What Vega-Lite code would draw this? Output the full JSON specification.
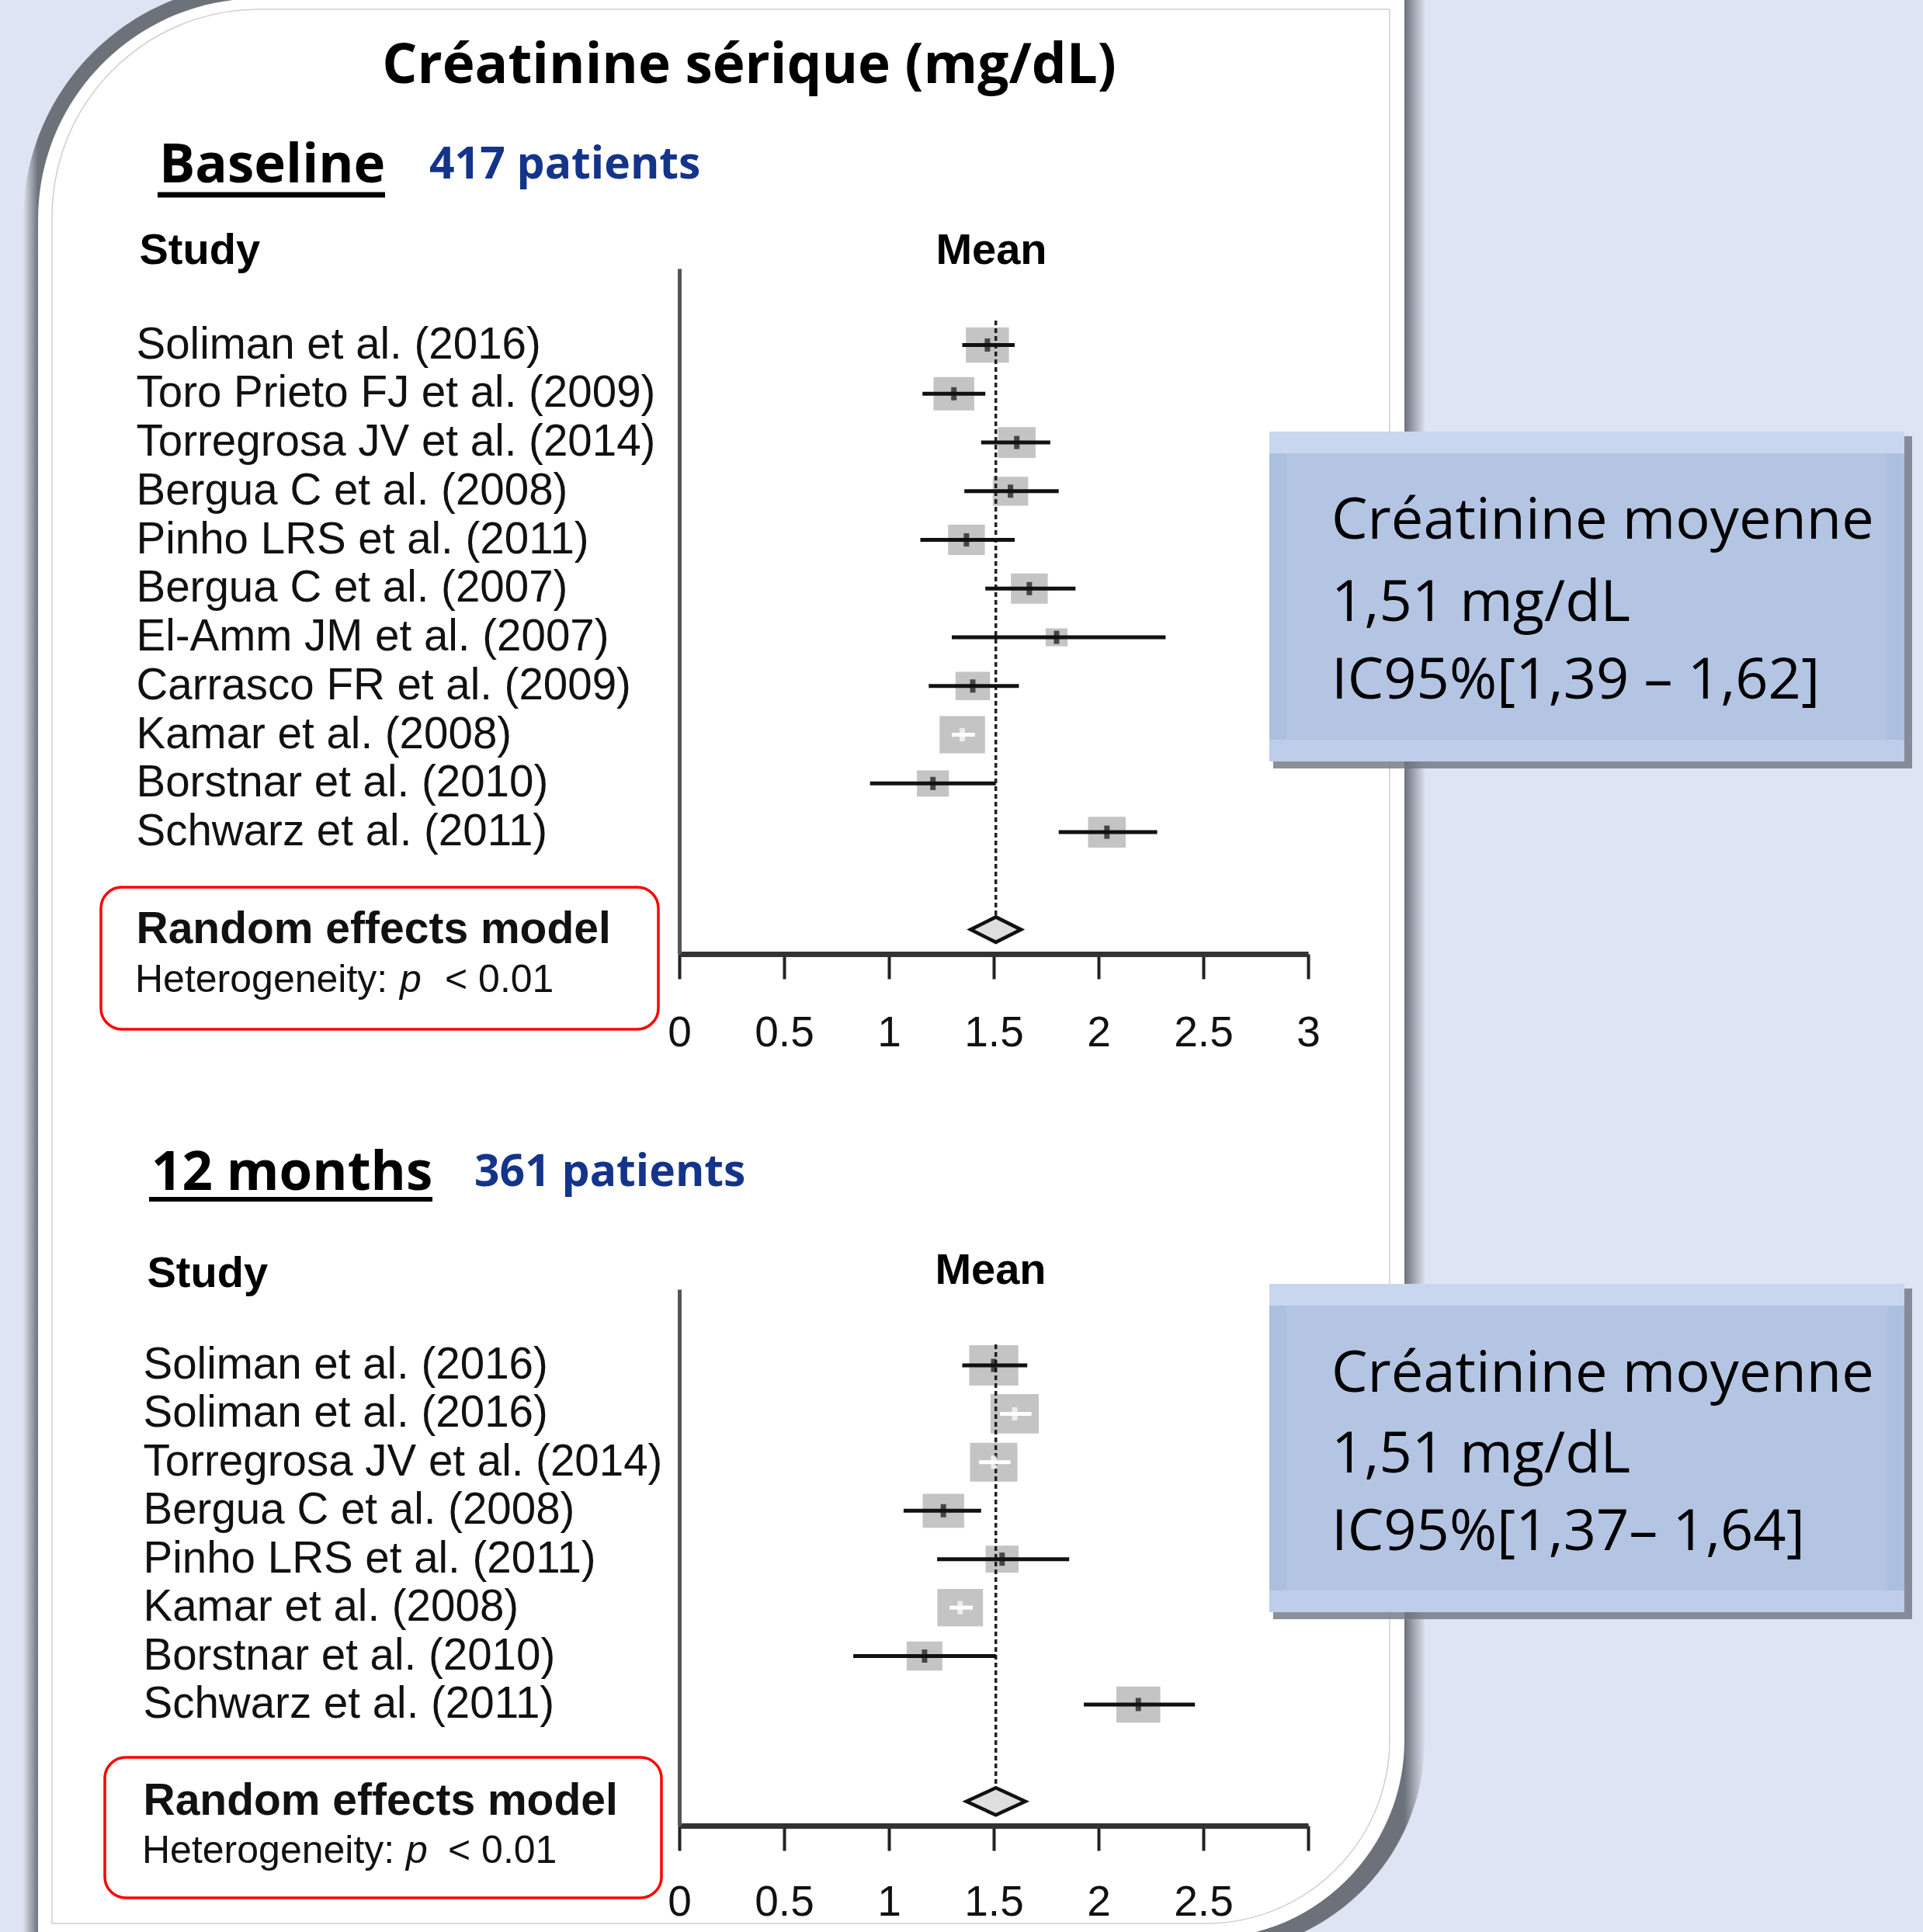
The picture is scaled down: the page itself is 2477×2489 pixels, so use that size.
{
  "$schema": "https://vega.github.io/schema/vega-lite/v6.json",
  "autosize": {"type": "none"},
  "padding": {"left": 875, "top": 346, "right": 1602, "bottom": 2143},
  "background": "#dee4f3",
  "config": {
    "view": {"stroke": null},
    "font": "Liberation Sans",
    "axis": {"grid": false}
  },
  "spacing": 432,
  "bounds": "flush",
  "datasets": {
    "one": [{"k": 1}],
    "base": [
      {"study": "Soliman et al. (2016)", "mean": 1.47, "lo": 1.35, "hi": 1.60, "w": 12.3, "kind": "study"},
      {"study": "Toro Prieto FJ et al. (2009)", "mean": 1.31, "lo": 1.16, "hi": 1.46, "w": 11.0, "kind": "study"},
      {"study": "Torregrosa JV et al. (2014)", "mean": 1.61, "lo": 1.44, "hi": 1.77, "w": 9.4, "kind": "study"},
      {"study": "Bergua C et al. (2008)", "mean": 1.58, "lo": 1.36, "hi": 1.81, "w": 8.3, "kind": "study"},
      {"study": "Pinho LRS et al. (2011)", "mean": 1.37, "lo": 1.15, "hi": 1.60, "w": 9.0, "kind": "study"},
      {"study": "Bergua C et al. (2007)", "mean": 1.67, "lo": 1.46, "hi": 1.89, "w": 9.0, "kind": "study"},
      {"study": "El-Amm JM et al. (2007)", "mean": 1.80, "lo": 1.30, "hi": 2.32, "w": 3.2, "kind": "study"},
      {"study": "Carrasco FR et al. (2009)", "mean": 1.40, "lo": 1.19, "hi": 1.62, "w": 7.9, "kind": "study"},
      {"study": "Kamar et al. (2008)", "mean": 1.35, "lo": 1.30, "hi": 1.41, "w": 13.7, "kind": "study"},
      {"study": "Borstnar et al. (2010)", "mean": 1.21, "lo": 0.91, "hi": 1.51, "w": 6.8, "kind": "study"},
      {"study": "Schwarz et al. (2011)", "mean": 2.04, "lo": 1.81, "hi": 2.28, "w": 9.4, "kind": "study"},
      {"study": "Random effects model", "mean": 1.51, "lo": 1.39, "hi": 1.62, "kind": "pooled"}
    ],
    "m12": [
      {"study": "Soliman et al. (2016)", "mean": 1.50, "lo": 1.35, "hi": 1.66, "w": 16.0, "kind": "study"},
      {"study": "Soliman et al. (2016) ", "mean": 1.60, "lo": 1.53, "hi": 1.68, "w": 15.4, "kind": "study"},
      {"study": "Torregrosa JV et al. (2014)", "mean": 1.50, "lo": 1.43, "hi": 1.58, "w": 14.9, "kind": "study"},
      {"study": "Bergua C et al. (2008)", "mean": 1.26, "lo": 1.07, "hi": 1.44, "w": 11.4, "kind": "study"},
      {"study": "Pinho LRS et al. (2011)", "mean": 1.54, "lo": 1.23, "hi": 1.86, "w": 7.2, "kind": "study"},
      {"study": "Kamar et al. (2008)", "mean": 1.34, "lo": 1.29, "hi": 1.40, "w": 13.8, "kind": "study"},
      {"study": "Borstnar et al. (2010)", "mean": 1.17, "lo": 0.83, "hi": 1.51, "w": 8.4, "kind": "study"},
      {"study": "Schwarz et al. (2011)", "mean": 2.19, "lo": 1.93, "hi": 2.46, "w": 12.8, "kind": "study"},
      {"study": "Random effects model", "mean": 1.51, "lo": 1.37, "hi": 1.64, "kind": "pooled"}
    ]
  },
  "vconcat": [
    {
      "width": 810,
      "height": 883,
      "layer": [
        {"data": {"name": "one"}, "mark": {"type": "rect", "cornerRadiusTopLeft": 304, "cornerRadiusBottomRight": 274, "fill": {"gradient": "linear", "x1": 0, "y1": 0, "x2": 1, "y2": 0, "stops": [{"offset": 0, "color": "#dde2ef"}, {"offset": 0.0105, "color": "#6d717a"}, {"offset": 0.9856, "color": "#6d717a"}, {"offset": 1, "color": "#d9deec"}]}}, "encoding": {"x": {"value": -845}, "x2": {"value": 960}, "y": {"value": -367}, "y2": {"value": 2170}}},
        {"data": {"name": "one"}, "mark": {"type": "rect", "cornerRadiusTopLeft": 285, "cornerRadiusBottomRight": 255, "fill": "#ffffff"}, "encoding": {"x": {"value": -826}, "x2": {"value": 934}, "y": {"value": -348}, "y2": {"value": 2151}}},
        {"data": {"name": "one"}, "mark": {"type": "rect", "cornerRadiusTopLeft": 267, "cornerRadiusBottomRight": 237, "fill": "#ffffff", "fillOpacity": 0, "stroke": "#cfcfcf", "strokeWidth": 1.5}, "encoding": {"x": {"value": -808}, "x2": {"value": 915}, "y": {"value": -334}, "y2": {"value": 2132}}},
        {"data": {"name": "one"}, "mark": {"type": "text", "text": "Créatinine sérique (mg/dL)", "font": "Open Sans", "fontSize": 71, "fontWeight": "bold", "align": "center", "baseline": "alphabetic", "color": "#000000"}, "encoding": {"x": {"value": 90}, "y": {"value": -239}}},
        {"data": {"name": "one"}, "mark": {"type": "text", "text": "Baseline", "font": "Open Sans", "fontSize": 69, "fontWeight": "bold", "align": "left", "baseline": "alphabetic", "color": "#000000"}, "encoding": {"x": {"value": -670}, "y": {"value": -111}}},
        {"data": {"name": "one"}, "mark": {"type": "rule", "strokeWidth": 7, "color": "#000000"}, "encoding": {"x": {"value": -672}, "x2": {"value": -379}, "y": {"value": -95}}},
        {"data": {"name": "one"}, "mark": {"type": "text", "text": "417 patients", "font": "Open Sans", "fontSize": 57, "fontWeight": "bold", "align": "left", "baseline": "alphabetic", "color": "#14348a"}, "encoding": {"x": {"value": -322}, "y": {"value": -116}}},
        {"data": {"name": "one"}, "mark": {"type": "text", "text": "Mean", "font": "Liberation Sans", "fontSize": 56, "fontWeight": "bold", "align": "center", "baseline": "alphabetic", "color": "#000000"}, "encoding": {"x": {"value": 402}, "y": {"value": -6}}},
        {"data": {"name": "one"}, "mark": {"type": "rect", "cornerRadius": 27, "fill": "#ffffff", "fillOpacity": 0, "stroke": "#ff0000", "strokeWidth": 3.5}, "encoding": {"x": {"value": -745}, "x2": {"value": -27}, "y": {"value": 797}, "y2": {"value": 980}}},
        {"data": {"name": "one"}, "mark": {"type": "text", "text": "Heterogeneity:", "font": "Liberation Sans", "fontSize": 50, "align": "left", "baseline": "alphabetic", "color": "#111111"}, "encoding": {"x": {"value": -701}, "y": {"value": 932}}},
        {"data": {"name": "one"}, "mark": {"type": "text", "text": "p", "font": "Liberation Sans", "fontSize": 50, "fontStyle": "italic", "align": "left", "baseline": "alphabetic", "color": "#111111"}, "encoding": {"x": {"value": -360}, "y": {"value": 932}}},
        {"data": {"name": "one"}, "mark": {"type": "text", "text": "< 0.01", "font": "Liberation Sans", "fontSize": 50, "align": "left", "baseline": "alphabetic", "color": "#111111"}, "encoding": {"x": {"value": -302}, "y": {"value": 932}}},
        {"data": {"name": "one"}, "mark": {"type": "rect", "fill": "#6f7580", "opacity": 0.8}, "encoding": {"x": {"value": 765}, "x2": {"value": 1588}, "y": {"value": 216}, "y2": {"value": 644}}},
        {"data": {"name": "one"}, "mark": {"type": "rect", "fill": "#adbfdf"}, "encoding": {"x": {"value": 760}, "x2": {"value": 1578}, "y": {"value": 210}, "y2": {"value": 635}}},
        {"data": {"name": "one"}, "mark": {"type": "rect", "fill": "#c9d6ef"}, "encoding": {"x": {"value": 760}, "x2": {"value": 1578}, "y": {"value": 210}, "y2": {"value": 238}}},
        {"data": {"name": "one"}, "mark": {"type": "rect", "fill": "#bdcdea"}, "encoding": {"x": {"value": 760}, "x2": {"value": 1578}, "y": {"value": 607}, "y2": {"value": 635}}},
        {"data": {"name": "one"}, "mark": {"type": "rect", "fill": "#b4c5e3"}, "encoding": {"x": {"value": 782}, "x2": {"value": 1556}, "y": {"value": 238}, "y2": {"value": 607}}},
        {"data": {"name": "one"}, "mark": {"type": "text", "text": "Créatinine moyenne", "font": "Open Sans", "fontSize": 74, "align": "left", "baseline": "alphabetic", "color": "#000000"}, "encoding": {"x": {"value": 840}, "y": {"value": 348}}},
        {"data": {"name": "one"}, "mark": {"type": "text", "text": "1,51 mg/dL", "font": "Open Sans", "fontSize": 74, "align": "left", "baseline": "alphabetic", "color": "#000000"}, "encoding": {"x": {"value": 840}, "y": {"value": 454}}},
        {"data": {"name": "one"}, "mark": {"type": "text", "text": "IC95%[1,39 – 1,62]", "font": "Open Sans", "fontSize": 74, "align": "left", "baseline": "alphabetic", "color": "#000000"}, "encoding": {"x": {"value": 840}, "y": {"value": 554}}},
        {
          "data": {"name": "base"},
          "transform": [{"filter": "datum.kind == 'study'"}],
          "mark": {"type": "point", "shape": "M-1,-0.82L1,-0.82L1,0.82L-1,0.82Z", "filled": true, "color": "#c4c4c4", "opacity": 1},
          "encoding": {
            "x": {"field": "mean", "type": "quantitative", "scale": {"domain": [0, 3], "nice": false, "zero": false},
              "axis": {"zindex": 2, "title": null, "values": [0, 0.5, 1, 1.5, 2, 2.5, 3], "format": "~g", "domainColor": "#333333", "domainWidth": 7, "tickColor": "#222222", "tickWidth": 4, "tickSize": 32, "labelFont": "Liberation Sans", "labelFontSize": 55, "labelColor": "#111111", "labelBaseline": "alphabetic", "labelPadding": 86, "labelFlush": false, "labelOverlap": false, "grid": false}},
            "y": {"field": "study", "type": "nominal",
              "scale": {"type": "band", "domain": [" ", "Soliman et al. (2016)", "Toro Prieto FJ et al. (2009)", "Torregrosa JV et al. (2014)", "Bergua C et al. (2008)", "Pinho LRS et al. (2011)", "Bergua C et al. (2007)", "El-Amm JM et al. (2007)", "Carrasco FR et al. (2009)", "Kamar et al. (2008)", "Borstnar et al. (2010)", "Schwarz et al. (2011)", "  ", "Random effects model"], "paddingInner": 0, "paddingOuter": 0.035, "align": 1},
              "axis": {"zindex": 2, "title": "Study", "titleAngle": 0, "titleAlign": "left", "titleBaseline": "alphabetic", "titleX": -696, "titleY": -7, "titleFont": "Liberation Sans", "titleFontSize": 56, "titleFontWeight": "bold", "titleColor": "#000000", "domainColor": "#555555", "domainWidth": 5, "ticks": false, "tickSize": 0, "labelAlign": "left", "labelPadding": 700, "labelLimit": 0, "labelFont": "Liberation Sans", "labelFontSize": {"condition": {"test": "datum.value == 'Random effects model'", "value": 57}, "value": 56.5}, "labelFontWeight": {"condition": {"test": "datum.value == 'Random effects model'", "value": "bold"}, "value": "normal"}, "labelColor": "#111111", "labelBaseline": "middle", "labelOverlap": false, "grid": false}},
            "size": {"field": "w", "type": "quantitative", "scale": {"domain": [0, 10], "range": [0, 2500]}, "legend": null}
          }
        },
        {
          "data": {"name": "base"},
          "transform": [{"filter": "datum.kind == 'pooled'"}],
          "mark": {"type": "rule", "strokeWidth": 3.5, "strokeDash": [6, 4], "color": "#222222"},
          "encoding": {"x": {"field": "mean", "type": "quantitative"}, "y": {"value": 67}, "y2": {"value": 836}}
        },
        {
          "data": {"name": "base"},
          "transform": [{"filter": "datum.kind == 'study'"}],
          "mark": {"type": "rule", "strokeWidth": 5},
          "encoding": {
            "x": {"field": "lo", "type": "quantitative"},
            "x2": {"field": "hi"},
            "y": {"field": "study", "type": "nominal"},
            "color": {"condition": {"test": "(datum.hi - datum.lo) * 270 < sqrt(datum.w * 250)", "value": "#ffffff"}, "value": "#111111"}
          }
        },
        {
          "data": {"name": "base"},
          "transform": [{"filter": "datum.kind == 'study'"}],
          "mark": {"type": "tick", "thickness": 7, "size": 17},
          "encoding": {
            "x": {"field": "mean", "type": "quantitative"},
            "y": {"field": "study", "type": "nominal"},
            "color": {"condition": {"test": "(datum.hi - datum.lo) * 270 < sqrt(datum.w * 250)", "value": "#ffffff"}, "value": "#111111"}
          }
        },
        {
          "data": {"name": "base"},
          "transform": [{"filter": "datum.kind == 'pooled'"}],
          "mark": {"type": "point", "shape": "M-1,0L0,-0.5L1,0L0,0.5Z", "filled": true, "fill": "#dedede", "stroke": "#111111", "strokeWidth": 4.5, "size": 4225, "opacity": 1},
          "encoding": {"x": {"field": "mean", "type": "quantitative"}, "y": {"field": "study", "type": "nominal"}}
        }
      ]
    },
    {
      "width": 810,
      "height": 691,
      "layer": [
        {"data": {"name": "one"}, "mark": {"type": "text", "text": "12 months", "font": "Open Sans", "fontSize": 69, "fontWeight": "bold", "align": "left", "baseline": "alphabetic", "color": "#000000"}, "encoding": {"x": {"value": -680}, "y": {"value": -128}}},
        {"data": {"name": "one"}, "mark": {"type": "rule", "strokeWidth": 6, "color": "#000000"}, "encoding": {"x": {"value": -683}, "x2": {"value": -318}, "y": {"value": -116}}},
        {"data": {"name": "one"}, "mark": {"type": "text", "text": "361 patients", "font": "Open Sans", "fontSize": 57, "fontWeight": "bold", "align": "left", "baseline": "alphabetic", "color": "#14348a"}, "encoding": {"x": {"value": -264}, "y": {"value": -133}}},
        {"data": {"name": "one"}, "mark": {"type": "text", "text": "Mean", "font": "Liberation Sans", "fontSize": 56, "fontWeight": "bold", "align": "center", "baseline": "alphabetic", "color": "#000000"}, "encoding": {"x": {"value": 401}, "y": {"value": -7}}},
        {"data": {"name": "one"}, "mark": {"type": "rect", "cornerRadius": 27, "fill": "#ffffff", "fillOpacity": 0, "stroke": "#ff0000", "strokeWidth": 3.5}, "encoding": {"x": {"value": -740}, "x2": {"value": -23}, "y": {"value": 603}, "y2": {"value": 784}}},
        {"data": {"name": "one"}, "mark": {"type": "text", "text": "Heterogeneity:", "font": "Liberation Sans", "fontSize": 50, "align": "left", "baseline": "alphabetic", "color": "#111111"}, "encoding": {"x": {"value": -692}, "y": {"value": 739}}},
        {"data": {"name": "one"}, "mark": {"type": "text", "text": "p", "font": "Liberation Sans", "fontSize": 50, "fontStyle": "italic", "align": "left", "baseline": "alphabetic", "color": "#111111"}, "encoding": {"x": {"value": -352}, "y": {"value": 739}}},
        {"data": {"name": "one"}, "mark": {"type": "text", "text": "< 0.01", "font": "Liberation Sans", "fontSize": 50, "align": "left", "baseline": "alphabetic", "color": "#111111"}, "encoding": {"x": {"value": -298}, "y": {"value": 739}}},
        {"data": {"name": "one"}, "mark": {"type": "rect", "fill": "#6f7580", "opacity": 0.8}, "encoding": {"x": {"value": 765}, "x2": {"value": 1588}, "y": {"value": -1}, "y2": {"value": 425}}},
        {"data": {"name": "one"}, "mark": {"type": "rect", "fill": "#adbfdf"}, "encoding": {"x": {"value": 760}, "x2": {"value": 1578}, "y": {"value": -7}, "y2": {"value": 416}}},
        {"data": {"name": "one"}, "mark": {"type": "rect", "fill": "#c9d6ef"}, "encoding": {"x": {"value": 760}, "x2": {"value": 1578}, "y": {"value": -7}, "y2": {"value": 21}}},
        {"data": {"name": "one"}, "mark": {"type": "rect", "fill": "#bdcdea"}, "encoding": {"x": {"value": 760}, "x2": {"value": 1578}, "y": {"value": 388}, "y2": {"value": 416}}},
        {"data": {"name": "one"}, "mark": {"type": "rect", "fill": "#b4c5e3"}, "encoding": {"x": {"value": 782}, "x2": {"value": 1556}, "y": {"value": 21}, "y2": {"value": 388}}},
        {"data": {"name": "one"}, "mark": {"type": "text", "text": "Créatinine moyenne", "font": "Open Sans", "fontSize": 74, "align": "left", "baseline": "alphabetic", "color": "#000000"}, "encoding": {"x": {"value": 840}, "y": {"value": 132}}},
        {"data": {"name": "one"}, "mark": {"type": "text", "text": "1,51 mg/dL", "font": "Open Sans", "fontSize": 74, "align": "left", "baseline": "alphabetic", "color": "#000000"}, "encoding": {"x": {"value": 840}, "y": {"value": 236}}},
        {"data": {"name": "one"}, "mark": {"type": "text", "text": "IC95%[1,37– 1,64]", "font": "Open Sans", "fontSize": 74, "align": "left", "baseline": "alphabetic", "color": "#000000"}, "encoding": {"x": {"value": 840}, "y": {"value": 336}}},
        {
          "data": {"name": "m12"},
          "transform": [{"filter": "datum.kind == 'study'"}],
          "mark": {"type": "point", "shape": "M-1,-0.82L1,-0.82L1,0.82L-1,0.82Z", "filled": true, "color": "#c4c4c4", "opacity": 1},
          "encoding": {
            "x": {"field": "mean", "type": "quantitative", "scale": {"domain": [0, 3], "nice": false, "zero": false},
              "axis": {"zindex": 2, "title": null, "values": [0, 0.5, 1, 1.5, 2, 2.5, 3], "format": "~g", "labelExpr": "datum.value == 3 ? '' : datum.label", "domainColor": "#333333", "domainWidth": 7, "tickColor": "#222222", "tickWidth": 4, "tickSize": 32, "labelFont": "Liberation Sans", "labelFontSize": 55, "labelColor": "#111111", "labelBaseline": "alphabetic", "labelPadding": 83, "labelFlush": false, "labelOverlap": false, "grid": false}},
            "y": {"field": "study", "type": "nominal",
              "scale": {"type": "band", "domain": [" ", "Soliman et al. (2016)", "Soliman et al. (2016) ", "Torregrosa JV et al. (2014)", "Bergua C et al. (2008)", "Pinho LRS et al. (2011)", "Kamar et al. (2008)", "Borstnar et al. (2010)", "Schwarz et al. (2011)", "  ", "Random effects model"], "paddingInner": 0, "paddingOuter": 0.035, "align": 1},
              "axis": {"zindex": 2, "title": "Study", "titleAngle": 0, "titleAlign": "left", "titleBaseline": "alphabetic", "titleX": -686, "titleY": -4, "titleFont": "Liberation Sans", "titleFontSize": 56, "titleFontWeight": "bold", "titleColor": "#000000", "domainColor": "#555555", "domainWidth": 5, "ticks": false, "tickSize": 0, "labelAlign": "left", "labelPadding": 691, "labelLimit": 0, "labelFont": "Liberation Sans", "labelFontSize": {"condition": {"test": "datum.value == 'Random effects model'", "value": 57}, "value": 56.5}, "labelFontWeight": {"condition": {"test": "datum.value == 'Random effects model'", "value": "bold"}, "value": "normal"}, "labelColor": "#111111", "labelBaseline": "middle", "labelOverlap": false, "grid": false}},
            "size": {"field": "w", "type": "quantitative", "scale": {"domain": [0, 10], "range": [0, 2150]}, "legend": null}
          }
        },
        {
          "data": {"name": "m12"},
          "transform": [{"filter": "datum.kind == 'pooled'"}],
          "mark": {"type": "rule", "strokeWidth": 3.5, "strokeDash": [6, 4], "color": "#222222"},
          "encoding": {"x": {"field": "mean", "type": "quantitative"}, "y": {"value": 71}, "y2": {"value": 643}}
        },
        {
          "data": {"name": "m12"},
          "transform": [{"filter": "datum.kind == 'study'"}],
          "mark": {"type": "rule", "strokeWidth": 5},
          "encoding": {
            "x": {"field": "lo", "type": "quantitative"},
            "x2": {"field": "hi"},
            "y": {"field": "study", "type": "nominal"},
            "color": {"condition": {"test": "(datum.hi - datum.lo) * 270 < sqrt(datum.w * 215)", "value": "#ffffff"}, "value": "#111111"}
          }
        },
        {
          "data": {"name": "m12"},
          "transform": [{"filter": "datum.kind == 'study'"}],
          "mark": {"type": "tick", "thickness": 7, "size": 17},
          "encoding": {
            "x": {"field": "mean", "type": "quantitative"},
            "y": {"field": "study", "type": "nominal"},
            "color": {"condition": {"test": "(datum.hi - datum.lo) * 270 < sqrt(datum.w * 215)", "value": "#ffffff"}, "value": "#111111"}
          }
        },
        {
          "data": {"name": "m12"},
          "transform": [{"filter": "datum.kind == 'pooled'"}],
          "mark": {"type": "point", "shape": "M-1,0L0,-0.46L1,0L0,0.46Z", "filled": true, "fill": "#dedede", "stroke": "#111111", "strokeWidth": 4.5, "size": 5776, "opacity": 1},
          "encoding": {"x": {"field": "mean", "type": "quantitative"}, "y": {"field": "study", "type": "nominal"}}
        }
      ]
    }
  ]
}
